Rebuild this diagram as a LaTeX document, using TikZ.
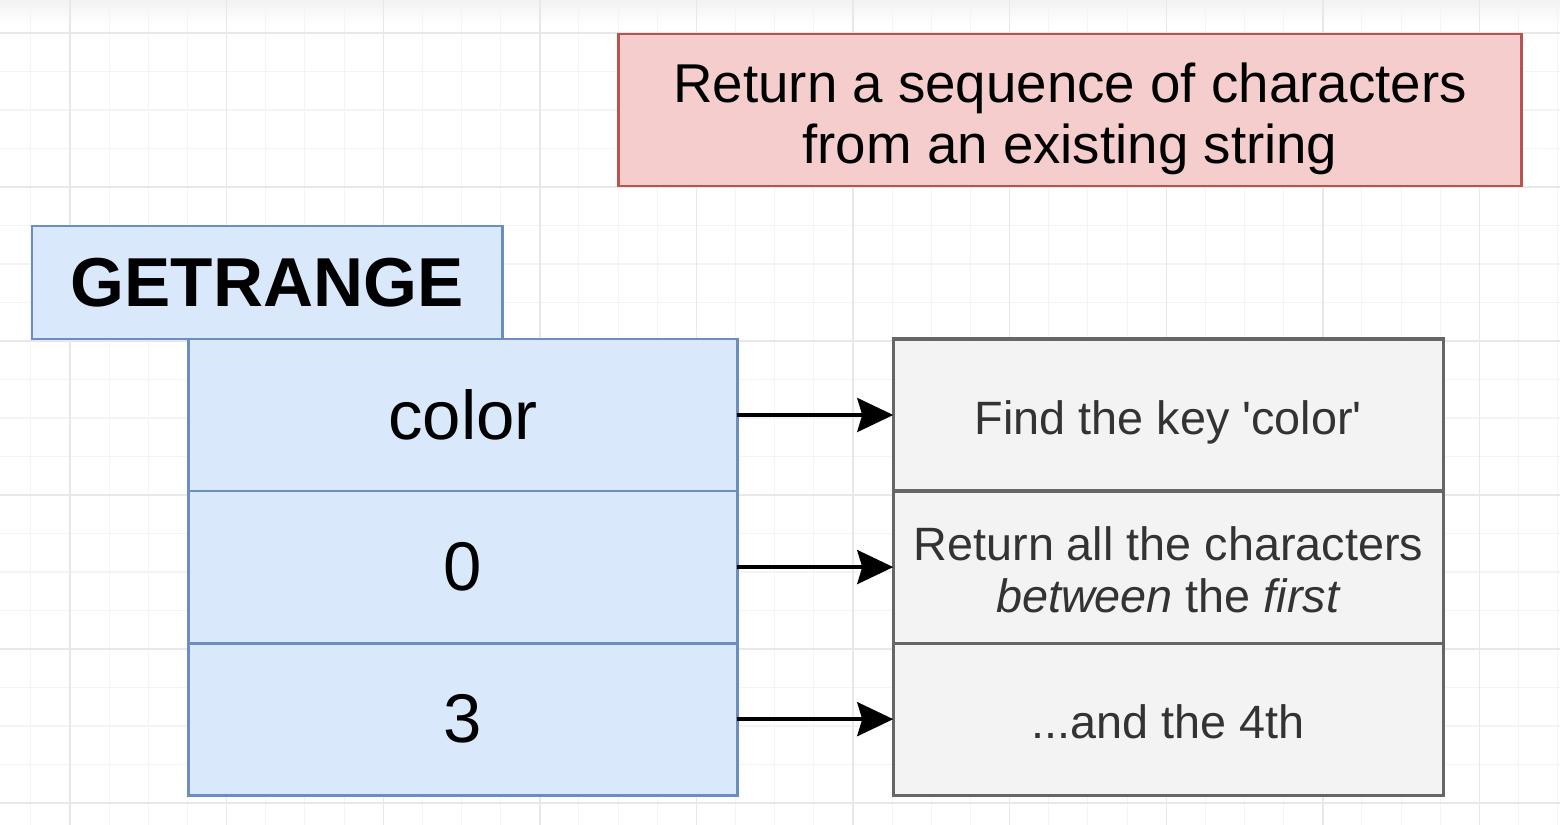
\documentclass[tikz,border=0pt]{standalone}
\usepackage{fontspec}
\setmainfont{Liberation Sans}
\usetikzlibrary{arrows.meta,positioning}

\definecolor{bluefill}{HTML}{DAE8FC}
\definecolor{blueline}{HTML}{6C8EBF}
\definecolor{redfill}{HTML}{F4CDCC}
\definecolor{redline}{HTML}{B85450}
\definecolor{grayfill}{HTML}{F3F3F3}
\definecolor{grayline}{HTML}{666666}
\definecolor{graytext}{HTML}{333333}
\definecolor{gridminor}{HTML}{F4F4F4}
\definecolor{gridmajor}{HTML}{E8E8E8}

\begin{document}
\begin{tikzpicture}[x=0.01cm,y=-0.01cm,
  every node/.style={draw,line width=0.8pt,outer sep=0,inner sep=0,align=center},
  cell/.style={fill=bluefill,draw=blueline,minimum width=5.48cm,minimum height=1.52cm,font=\fontsize{19.6}{23}\selectfont},
  note/.style={fill=grayfill,draw=grayline,line width=0.9pt,text=graytext,minimum width=5.5cm,minimum height=1.52cm,text height=11.2pt,text depth=0pt,font=\fontsize{13.3}{15}\selectfont},
  titlebox/.style={fill=bluefill,draw=blueline,minimum width=4.7cm,minimum height=1.13cm,font=\bfseries\fontsize{19.7}{23}\selectfont},
  descbox/.style={fill=redfill,draw=redline,minimum width=9.02cm,minimum height=1.52cm,text height=30.2pt,text depth=0pt,font=\fontsize{15.55}{17.1}\selectfont},
  arrow/.style={-{Stealth[length=0.36cm,width=0.34cm,inset=0.05cm]},line width=1pt}]

\useasboundingbox (0,0) rectangle (1560,825);
\fill[white] (0,0) rectangle (1560,825);

% grid
\foreach \k in {0,...,11} \fill[black,opacity={0.05*(1-\k/12)}] (0,{2*\k}) rectangle (1560,{2*\k+2});
\foreach \i in {0,...,39} \draw[gridminor,line width=0.3pt] ({30.85+39.15*\i},0) -- ({30.85+39.15*\i},825);
\foreach \j in {0,...,20} \draw[gridminor,line width=0.3pt] (0,{33+38.5*\j}) -- (1560,{33+38.5*\j});
\foreach \i in {0,...,9} \draw[gridmajor,line width=0.4pt] ({70+156.6*\i},0) -- ({70+156.6*\i},825);
\foreach \j in {0,...,5} \draw[gridmajor,line width=0.4pt] (0,{33+154*\j}) -- (1560,{33+154*\j});

% Nodes
\node[descbox] (desc) at (1070,110) {Return a sequence of characters\\from an existing string};
\node[titlebox,anchor=south west] (title) at (32,339) {GETRANGE};

\node[cell] (arg1) at (463,415) {color};
\node[cell,below=0pt of arg1] (arg2) {0};
\node[cell,below=0pt of arg2] (arg3) {3};

\node[note,right=1.56cm of arg1] (note1) {Find the key \textquotesingle color\textquotesingle};
\node[note,text height=26pt,below=0pt of note1] (note2) {Return all the characters\\\textit{between} the \textit{first}};
\node[note,below=0pt of note2] (note3) {...and the 4th};

%arcs
\path (arg1) edge[arrow] (note1);
\path (arg2) edge[arrow] (note2);
\path (arg3) edge[arrow] (note3);

\end{tikzpicture}
\end{document}
